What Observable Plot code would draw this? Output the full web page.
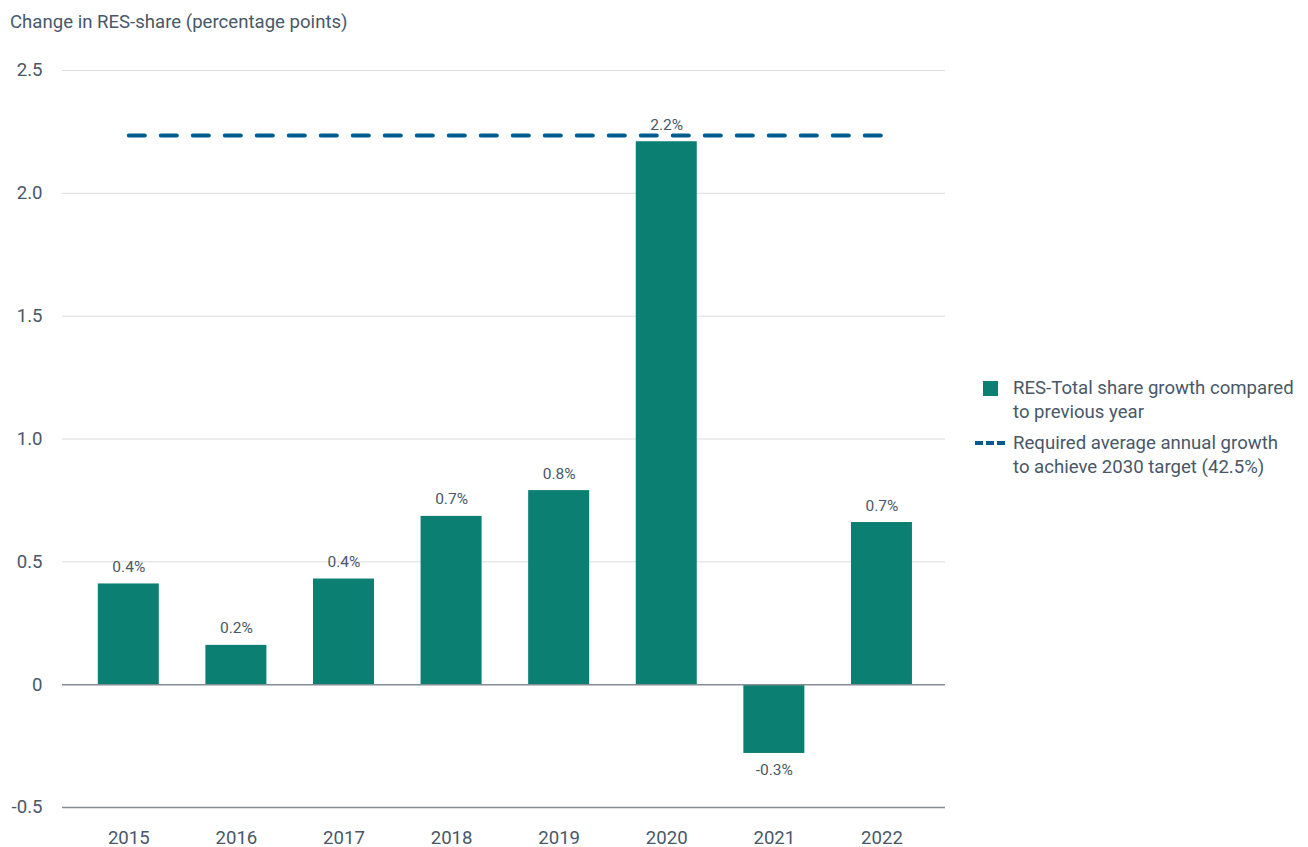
<!DOCTYPE html>
<html>
<head>
<meta charset="utf-8">
<script src="https://cdn.jsdelivr.net/npm/d3@7"></script>
<script src="https://cdn.jsdelivr.net/npm/@observablehq/plot@0.6"></script>
<style>
  html, body { margin: 0; background: #fff; overflow: hidden; }
  body { font-family: Roboto, "Noto Sans", sans-serif; color: #485868; }
  #wrap { position: relative; width: 1308px; height: 847px; }
  #title { height: 40px; font-size: 18.6px; line-height: 18px; padding-left: 10px; box-sizing: border-box; padding-top: 13px; }
  #legend { position: absolute; left: 975px; top: 376px; font-size: 18.6px; line-height: 24px; }
  .item { display: flex; align-items: flex-start; margin-bottom: 7px; }
  .sw { width: 38px; flex: none; position: relative; height: 24px; }
  .sq { position: absolute; left: 8px; top: 5px; width: 15px; height: 15px; background: #0b7f71; }
  .dash { position: absolute; left: 0; top: 10px; width: 30px; height: 4px;
          background: repeating-linear-gradient(90deg, #005b8e 0 8px, transparent 8px 11px); }
</style>
</head>
<body>
<div id="wrap">
  <div id="title">Change in RES-share (percentage points)</div>
  <div id="chart"></div>
  <div id="legend">
    <div class="item"><div class="sw"><div class="sq"></div></div><div>RES-Total share growth compared<br>to previous year</div></div>
    <div class="item"><div class="sw"><div class="dash"></div></div><div>Required average annual growth<br>to achieve 2030 target (42.5%)</div></div>
  </div>
</div>
<script>
const years = ["2015", "2016", "2017", "2018", "2019", "2020", "2021", "2022"];
const growth = [0.41, 0.16, 0.43, 0.685, 0.79, 2.21, -0.28, 0.66];
const requiredGrowth = 2.235;
const yTicks = [-0.5, 0, 0.5, 1, 1.5, 2, 2.5];

const bars = years.map((y, i) => ({year: y, value: growth[i], label: growth[i].toFixed(1) + "%"}));
const req = [{year: years[0], value: requiredGrowth}, {year: years[years.length - 1], value: requiredGrowth}];

const textColor = "#485868";

const chart = Plot.plot({
  width: 1308,
  height: 817,
  marginTop: 30,
  marginBottom: 50,
  marginLeft: 62,
  marginRight: 363,
  style: {fontFamily: "Roboto, sans-serif", fontSize: "18.6px", color: textColor, background: "#fff", overflow: "visible"},
  x: {domain: years, paddingInner: 0.433, paddingOuter: 0.32, align: 0.52, label: null, round: false},
  y: {domain: [-0.5, 2.5], label: null},
  marks: [
    Plot.ruleY(yTicks.filter(d => d > 0), {stroke: "#dcdcdc", strokeWidth: 1}),
    Plot.barY(bars, {x: "year", y: "value", fill: "#0b7f71"}),
    Plot.ruleY([0, -0.5], {stroke: "#858c94", strokeWidth: 1.5}),
    Plot.text(bars.filter(d => d.value >= 0), {x: "year", y: "value", text: "label", fill: textColor, fontSize: 15.5,
      lineAnchor: "bottom", dy: -12}),
    Plot.text(bars.filter(d => d.value < 0), {x: "year", y: "value", text: "label", fill: textColor, fontSize: 15.5,
      lineAnchor: "top", dy: 11}),
    Plot.lineY(req, {x: "year", y: "value", stroke: "#005b8e", strokeWidth: 4, strokeDasharray: "16,16"}),
    Plot.axisY(yTicks, {tickSize: 0, tickPadding: 20, fill: textColor, fontSize: 18.6,
      tickFormat: d => d === 0 ? "0" : d.toFixed(1)}),
    Plot.axisX({tickSize: 0, tickPadding: 23, fill: textColor, fontSize: 18.6})
  ]
});
document.getElementById("chart").appendChild(chart);
</script>
</body>
</html>
